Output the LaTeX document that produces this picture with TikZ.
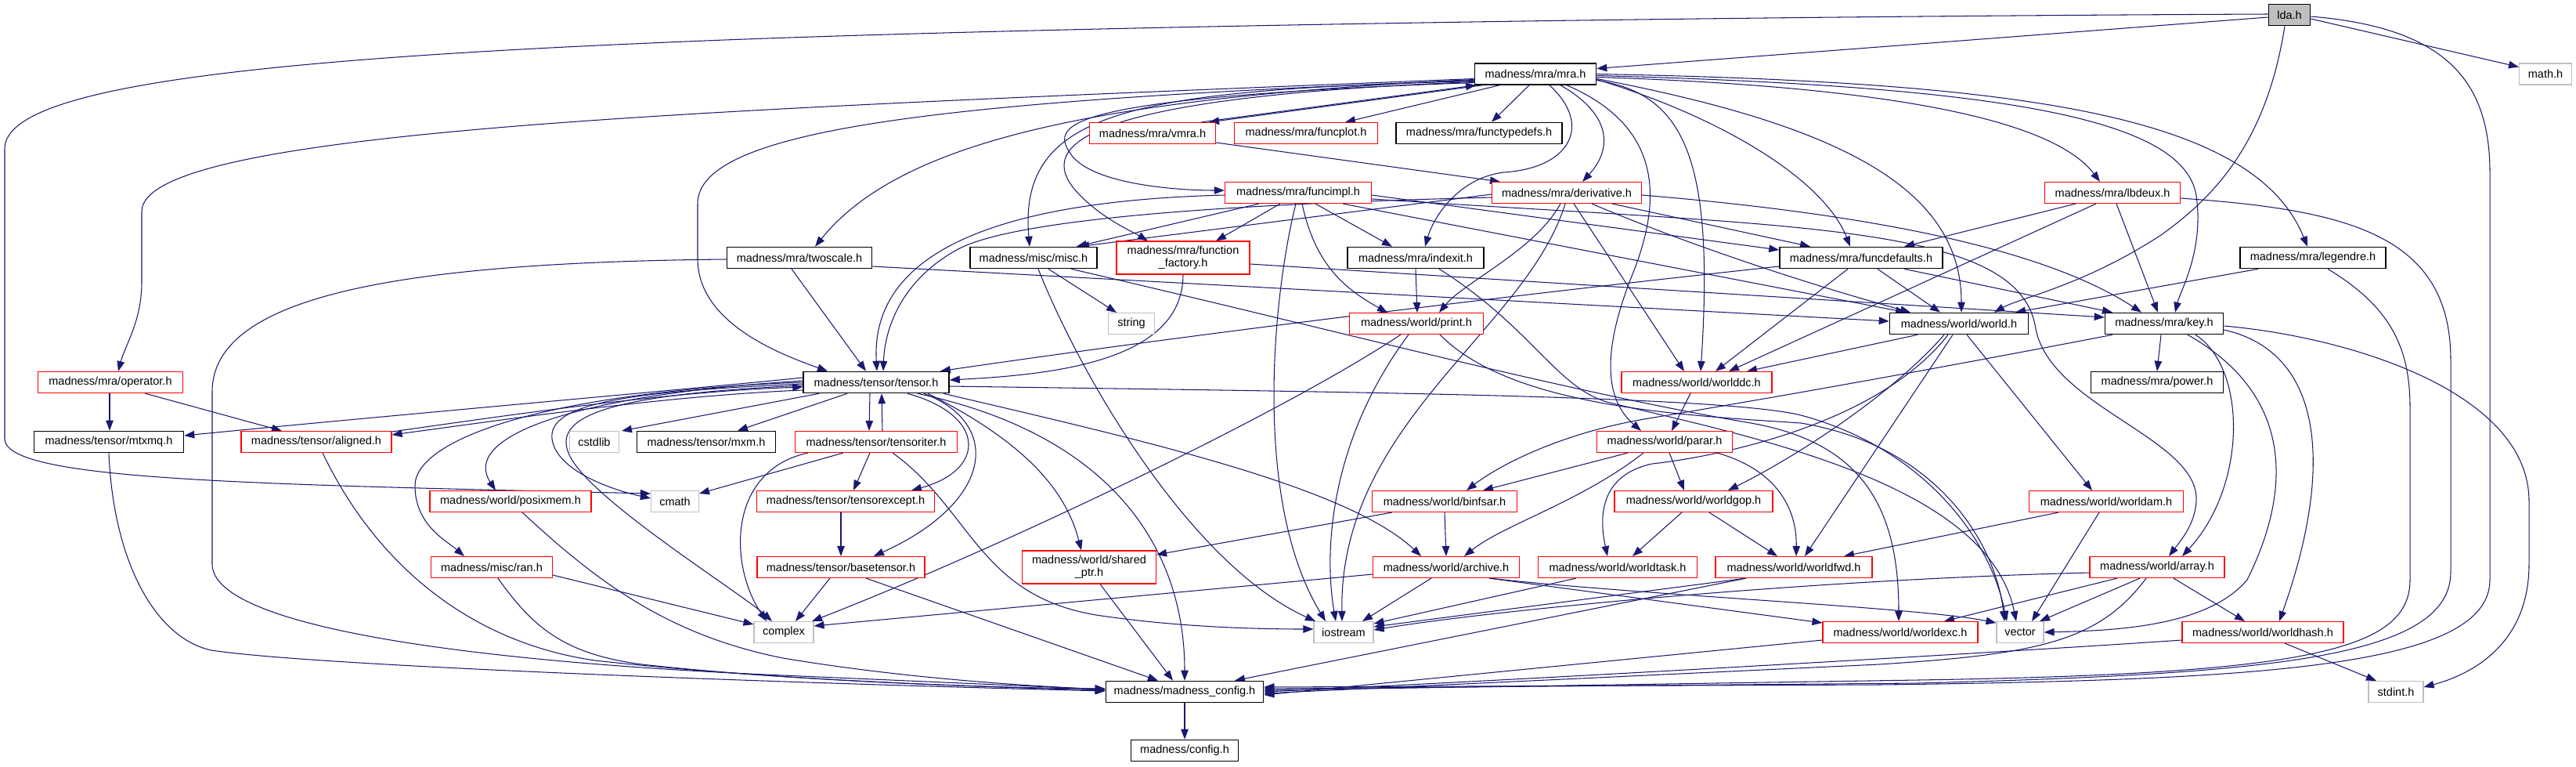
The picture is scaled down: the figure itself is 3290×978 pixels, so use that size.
\documentclass[tikz,border=0pt]{standalone}
\usepackage{fontspec}
\setmainfont{Liberation Sans}
\usetikzlibrary{arrows.meta}
\pgfdeclarelayer{bg}
\pgfsetlayers{bg,main}
\definecolor{edgec}{HTML}{191970}
\definecolor{rd}{HTML}{FF0000}
\definecolor{gb}{HTML}{BFBFBF}
\newcommand{\nfont}{\fontsize{14.5pt}{16pt}\selectfont}
\tikzset{
  box/.style={draw, line width=1.1pt, fill=white, minimum height=27pt, inner sep=0pt, font=\nfont, text=black},
  bn/.style={box, draw=black, line width=1.6pt},
  rn/.style={box, draw=rd},
  gn/.style={box, draw=gb},
  e/.style={draw=edgec, line width=1.05pt, -{Triangle[length=13pt,width=9.5pt]}}
}
\begin{document}
\begin{tikzpicture}[x=1pt,y=-1pt]
\useasboundingbox (0,0) rectangle (3290,978);
% nodes
\node[bn, fill=gb, minimum width=53pt] (lda) at (2924,19) {lda.h};
\node[bn, minimum width=155pt] (mra) at (1961,94.5) {madness/mra/mra.h};
\node[gn, minimum width=67pt] (math) at (3251,94.5) {math.h};
\node[rn, minimum width=161pt] (vmra) at (1472,170) {madness/mra/vmra.h};
\node[rn, minimum width=183pt] (funcplot) at (1668,170) {madness/mra/funcplot.h};
\node[bn, minimum width=212pt] (functypedefs) at (1889,170) {madness/mra/functypedefs.h};
\node[rn, minimum width=187pt] (funcimpl) at (1658,246) {madness/mra/funcimpl.h};
\node[rn, minimum width=191pt] (derivative) at (2001,246) {madness/mra/derivative.h};
\node[rn, minimum width=173pt] (lbdeux) at (2698,246) {madness/mra/lbdeux.h};
\node[bn, minimum width=185pt] (twoscale) at (1021,329) {madness/mra/twoscale.h};
\node[bn, minimum width=162pt] (misc) at (1320,329) {madness/misc/misc.h};
\node[rn, minimum width=170pt, minimum height=42pt, align=center] (funcfactory) at (1511,329) {madness/mra/function\\\_factory.h};
\node[bn, minimum width=174pt] (indexit) at (1808,329) {madness/mra/indexit.h};
\node[bn, minimum width=208pt] (funcdefaults) at (2377,329) {madness/mra/funcdefaults.h};
\node[bn, minimum width=186pt] (legendre) at (2954,329) {madness/mra/legendre.h};
\node[rn, minimum width=185pt] (operator) at (141,488) {madness/mra/operator.h};
\node[gn, minimum width=59pt] (string) at (1445,413) {string};
\node[rn, minimum width=171pt] (print) at (1809,413) {madness/world/print.h};
\node[bn, minimum width=177pt] (world) at (2502,413) {madness/world/world.h};
\node[bn, minimum width=151pt] (key) at (2764,413) {madness/mra/key.h};
\node[bn, minimum width=186pt] (tensor) at (1119,488) {madness/tensor/tensor.h};
\node[rn, minimum width=192pt] (worlddc) at (2167,488) {madness/world/worlddc.h};
\node[bn, minimum width=169pt] (power) at (2755,488) {madness/mra/power.h};
\node[bn, minimum width=191pt] (mtxmq) at (139,564) {madness/tensor/mtxmq.h};
\node[rn, minimum width=192pt] (aligned) at (404,564) {madness/tensor/aligned.h};
\node[gn, minimum width=63pt] (cstdlib) at (759,564) {cstdlib};
\node[bn, minimum width=177pt] (mxm) at (902,564) {madness/tensor/mxm.h};
\node[rn, minimum width=207pt] (tensoriter) at (1119,564) {madness/tensor/tensoriter.h};
\node[rn, minimum width=173pt] (parar) at (2126,564) {madness/world/parar.h};
\node[rn, minimum width=206pt] (posixmem) at (652,640) {madness/world/posixmem.h};
\node[gn, minimum width=61pt] (cmath) at (862,640) {cmath};
\node[rn, minimum width=227pt] (tensorexcept) at (1080,640) {madness/tensor/tensorexcept.h};
\node[rn, minimum width=185pt] (binfsar) at (1845,640) {madness/world/binfsar.h};
\node[rn, minimum width=202pt] (worldgop) at (2163,640) {madness/world/worldgop.h};
\node[rn, minimum width=197pt] (worldam) at (2690,640) {madness/world/worldam.h};
\node[rn, minimum width=155pt] (ran) at (628,724) {madness/misc/ran.h};
\node[rn, minimum width=214pt] (basetensor) at (1074,724) {madness/tensor/basetensor.h};
\node[rn, minimum width=171pt, minimum height=42pt, align=center] (sharedptr) at (1391,724) {madness/world/shared\\\_ptr.h};
\node[rn, minimum width=187pt] (archive) at (1847,724) {madness/world/archive.h};
\node[rn, minimum width=203pt] (worldtask) at (2066,724) {madness/world/worldtask.h};
\node[rn, minimum width=200pt] (worldfwd) at (2291,724) {madness/world/worldfwd.h};
\node[rn, minimum width=172pt] (array) at (2755,724) {madness/world/array.h};
\node[gn, minimum width=76pt] (complex) at (1001,807) {complex};
\node[gn, minimum width=76pt] (iostream) at (1716,807) {iostream};
\node[rn, minimum width=198pt] (worldexc) at (2427,807) {madness/world/worldexc.h};
\node[gn, minimum width=60pt] (vector) at (2580,807) {vector};
\node[rn, minimum width=206pt] (worldhash) at (2890,807) {madness/world/worldhash.h};
\node[bn, minimum width=201pt] (madconfig) at (1513,883) {madness/madness\_config.h};
\node[gn, minimum width=70pt] (stdint) at (3060,883) {stdint.h};
\node[bn, minimum width=137pt] (config) at (1513,958) {madness/config.h};

\begin{pgfonlayer}{bg}
\fill[white] (0,0) rectangle (3290,978);
% lda
\draw[e] ([yshift=-3pt]lda.west) -- ([yshift=7pt]mra.east);
\draw[e] ([yshift=1pt]lda.west) .. controls (2000,22) and (1200,38) .. (830,55) .. controls (250,80) and (6,120) .. (6,190) -- (6,560) .. controls (6,612) and (300,618) .. ([yshift=10pt]cmath.west);
\draw[e] ([yshift=-5pt]lda.east) -- ([yshift=9pt]math.west);
\draw[e] ([yshift=-2pt]lda.east) .. controls (3120,35) and (3180,100) .. (3180,220) -- (3180,740) .. controls (3180,850) and (2900,868) .. (2400,874) -- ([yshift=6pt]madconfig.east);
\draw[e] ([xshift=-6pt]lda.south) .. controls (2895,180) and (2830,250) .. (2760,300) .. controls (2660,365) and (2580,380) .. ([xshift=45pt]world.north);
% mra
\draw[e] ([xshift=-68pt]mra.south) -- ([xshift=72pt]vmra.north);
\draw[e] ([xshift=62pt]vmra.north) -- ([xshift=-76pt]mra.south);
\draw[e] ([xshift=-46pt]mra.south) -- ([xshift=50pt]funcplot.north);
\draw[e] ([xshift=-8pt]mra.south) -- ([xshift=16pt]functypedefs.north);
\draw[e] ([yshift=-6pt]mra.west) .. controls (900,140) and (181,165) .. (181,270) -- (181,360) .. controls (181,410) and (160,440) .. ([xshift=10pt]operator.north);
\draw[e] ([yshift=-7pt]mra.west) .. controls (1400,125) and (1150,180) .. ([xshift=20pt]twoscale.north);
\draw[e] ([yshift=-8pt]mra.west) .. controls (1200,128) and (891,165) .. (891,260) -- (891,330) .. controls (891,410) and (990,450) .. ([xshift=-62pt]tensor.north);
\draw[e] ([yshift=-9pt]mra.west) .. controls (1450,115) and (1300,140) .. ([xshift=-5pt]misc.north);
\draw[e] ([yshift=-10pt]mra.west) .. controls (1360,125) and (1320,190) .. (1380,250) .. controls (1410,280) and (1445,295) .. ([xshift=-45pt]funcfactory.north);
\draw[e] ([yshift=-11pt]mra.west) .. controls (1340,125) and (1340,160) .. (1370,200) .. controls (1400,235) and (1500,243) .. ([yshift=3pt]funcimpl.west);
\draw[e] ([xshift=18pt]mra.south) .. controls (2035,160) and (2005,215) .. (1920,220) .. controls (1860,228) and (1830,280) .. ([xshift=12pt]indexit.north);
\draw[e] ([xshift=32pt]mra.south) .. controls (2065,150) and (2055,195) .. ([xshift=20pt]derivative.north);
\draw[e] ([xshift=40pt]mra.south) .. controls (2120,160) and (2125,250) .. (2085,350) .. controls (2045,450) and (2050,510) .. ([xshift=-30pt]parar.north);
\draw[e] ([yshift=-8pt]mra.east) .. controls (2150,120) and (2190,200) .. ([xshift=5pt]worlddc.north);
\draw[e] ([yshift=-7pt]mra.east) .. controls (2200,150) and (2330,230) .. ([xshift=-14pt]funcdefaults.north);
\draw[e] ([yshift=-6pt]mra.east) .. controls (2350,160) and (2505,240) .. ([xshift=3pt]world.north);
\draw[e] ([yshift=-4pt]mra.east) .. controls (2400,110) and (2620,150) .. ([xshift=-16pt]lbdeux.north);
\draw[e] ([yshift=-2pt]mra.east) .. controls (2550,110) and (2790,150) .. (2805,250) .. controls (2815,320) and (2785,370) .. ([xshift=14pt]key.north);
\draw[e] (mra.east) .. controls (2600,105) and (2880,150) .. ([xshift=-7pt]legendre.north);
% vmra
\draw[e] ([yshift=-12pt]vmra.east) -- ([xshift=-85pt]derivative.north);
% funcimpl
\draw[e] ([yshift=-3pt]funcimpl.west) .. controls (1330,255) and (1110,300) .. ([xshift=1pt]tensor.north);
\draw[e] ([xshift=-50pt]funcimpl.south) -- ([xshift=55pt]misc.north);
\draw[e] ([xshift=-23pt]funcimpl.south) -- ([xshift=42pt]funcfactory.north);
\draw[e] ([xshift=22pt]funcimpl.south) -- ([xshift=-30pt]indexit.north);
\draw[e] ([xshift=5pt]funcimpl.south) .. controls (1680,340) and (1720,370) .. ([xshift=-37pt]print.north);
\draw[e] ([xshift=-3pt]funcimpl.south) .. controls (1625,380) and (1600,640) .. ([xshift=-23pt]iostream.north);
\draw[e] ([yshift=-3pt]funcimpl.east) -- ([yshift=10pt]funcdefaults.west);
\draw[e] ([xshift=57pt]funcimpl.south) -- ([xshift=-68pt]world.north);
\draw[e] ([yshift=-8pt]funcimpl.east) .. controls (2300,290) and (2580,285) .. (2600,420) .. controls (2620,520) and (2810,560) .. (2805,640) .. controls (2803,670) and (2785,690) .. ([xshift=15pt]array.north);
% derivative
\draw[e] ([yshift=-6pt]derivative.west) .. controls (1500,262) and (1280,285) .. (1220,320) .. controls (1150,360) and (1130,420) .. ([xshift=9pt]tensor.north);
\draw[e] ([yshift=-2pt]derivative.west) -- ([xshift=58pt]misc.north);
\draw[e] ([xshift=-8pt]derivative.south) .. controls (1960,320) and (1870,360) .. ([xshift=29pt]print.north);
\draw[e] ([xshift=-2pt]derivative.south) .. controls (1950,420) and (1710,540) .. ([xshift=-2pt]iostream.north);
\draw[e] ([xshift=9pt]derivative.south) -- ([xshift=-16pt]worlddc.north);
\draw[e] ([xshift=58pt]derivative.south) -- ([xshift=-65pt]funcdefaults.north);
\draw[e] ([xshift=32pt]derivative.south) .. controls (2150,310) and (2300,360) .. ([xshift=-62pt]world.north);
\draw[e] ([yshift=-3pt]derivative.east) .. controls (2350,270) and (2600,310) .. ([xshift=-29pt]key.north);
% lbdeux
\draw[e] ([xshift=-47pt]lbdeux.south) -- ([xshift=55pt]funcdefaults.north);
\draw[e] ([xshift=-21pt]lbdeux.south) -- ([xshift=41pt]worlddc.north);
\draw[e] ([xshift=5pt]lbdeux.south) -- ([xshift=-8pt]key.north);
\draw[e] ([yshift=-7pt]lbdeux.east) .. controls (3000,268) and (3130,300) .. (3130,460) -- (3130,730) .. controls (3130,840) and (2900,860) .. (2450,872) -- ([yshift=4pt]madconfig.east);
% legendre
\draw[e] ([xshift=-70pt]legendre.south) -- ([xshift=72pt]world.north);
\draw[e] ([xshift=19pt]legendre.south) .. controls (3050,390) and (3078,440) .. (3078,520) -- (3078,740) .. controls (3078,830) and (2950,860) .. (2450,868) -- ([yshift=2pt]madconfig.east);
% twoscale
\draw[e] ([xshift=-10pt]twoscale.south) -- ([xshift=-13pt]tensor.north);
\draw[e] ([yshift=-11pt]twoscale.east) -- ([yshift=3pt]world.west);
\draw[e] ([yshift=-2pt]twoscale.west) .. controls (500,335) and (271,380) .. (271,500) -- (271,720) .. controls (271,800) and (600,845) .. (1000,862) -- ([yshift=3pt]madconfig.west);
% misc
\draw[e] ([xshift=19pt]misc.south) -- ([xshift=-19pt]string.north);
\draw[e] ([xshift=6pt]misc.south) .. controls (1380,480) and (1520,720) .. ([xshift=-36pt]iostream.north);
\draw[e] ([xshift=48pt]misc.south) .. controls (1700,420) and (2000,500) .. (2236,540) .. controls (2380,565) and (2425,650) .. ([xshift=-2pt]worldexc.north);
% function factory
\draw[e] (funcfactory.south) .. controls (1511,460) and (1350,478) .. ([yshift=3pt]tensor.east);
\draw[e] ([yshift=-8pt]funcfactory.east) -- ([yshift=8pt]key.west);
% funcdefaults
\draw[e] ([yshift=-11pt]funcdefaults.west) .. controls (1900,380) and (1500,430) .. ([xshift=-12pt]tensor.north east);
\draw[e] ([xshift=-17pt]funcdefaults.south) -- ([xshift=24pt]worlddc.north);
\draw[e] ([xshift=21pt]funcdefaults.south) -- ([xshift=-24pt]world.north);
\draw[e] ([xshift=55pt]funcdefaults.south) -- ([xshift=-66pt]key.north);
% indexit
\draw[e] (indexit.south) -- ([xshift=1pt]print.north);
\draw[e] ([xshift=30pt]indexit.south) .. controls (1960,420) and (1990,500) .. (2060,515) .. controls (2250,560) and (2540,620) .. ([xshift=-5pt]vector.north);
% print
\draw[e] ([xshift=-20pt]print.south) .. controls (1650,520) and (1300,690) .. ([xshift=36pt]complex.north);
\draw[e] ([xshift=-10pt]print.south) .. controls (1700,560) and (1690,700) .. ([xshift=-10pt]iostream.north);
\draw[e] ([xshift=30pt]print.south) .. controls (1930,520) and (2150,530) .. (2300,540) .. controls (2480,570) and (2550,700) .. ([xshift=-20pt]vector.north);
% tensor
\draw[e] ([yshift=6pt]tensor.west) .. controls (900,495) and (500,530) .. ([yshift=8pt]mtxmq.east);
\draw[e] ([yshift=-10pt]tensor.west) .. controls (850,505) and (650,535) .. ([yshift=9pt]aligned.east);
\draw[e] ([yshift=13pt]aligned.east) .. controls (650,530) and (850,500) .. ([yshift=-6pt]tensor.west);
\draw[e] ([yshift=2pt]tensor.west) .. controls (720,505) and (590,560) .. ([xshift=-19pt]posixmem.north);
\draw[e] (tensor.west) .. controls (700,500) and (530,560) .. (530,620) .. controls (530,670) and (570,690) .. ([xshift=-35pt]ran.north);
\draw[e] ([yshift=-2pt]tensor.west) .. controls (800,500) and (700,515) .. (705,560) .. controls (710,600) and (780,625) .. ([yshift=4pt]cmath.west);
\draw[e] ([yshift=-4pt]tensor.west) .. controls (740,505) and (690,540) .. (740,600) .. controls (790,660) and (950,760) .. ([xshift=-15pt]complex.north);
\draw[e] ([xshift=-73pt]tensor.south) -- ([xshift=35pt]cstdlib.north);
\draw[e] ([xshift=-37pt]tensor.south) -- ([xshift=40pt]mxm.north);
\draw[e] ([xshift=-8pt]tensor.south) -- ([xshift=-9pt]tensoriter.north);
\draw[e] ([xshift=8pt]tensoriter.north) -- ([xshift=7pt]tensor.south);
\draw[e] ([xshift=40pt]tensor.south) .. controls (1260,530) and (1260,600) .. ([xshift=84pt]tensorexcept.north);
\draw[e] ([xshift=61pt]tensor.south) .. controls (1280,540) and (1270,640) .. ([xshift=42pt]basetensor.north);
\draw[e] ([xshift=66pt]tensor.south) .. controls (1300,560) and (1360,620) .. ([xshift=-10pt]sharedptr.north);
\draw[e] ([xshift=53pt]tensor.south) .. controls (1420,555) and (1513,700) .. (madconfig.north);
\draw[e] ([xshift=86pt]tensor.south) .. controls (1450,560) and (1720,620) .. ([xshift=-32pt]archive.north);
\draw[e] ([yshift=-5pt]tensor.east) .. controls (1700,500) and (2200,505) .. (2300,530) .. controls (2450,570) and (2540,680) .. ([xshift=-17pt]vector.north);
% worlddc
\draw[e] ([xshift=-8pt]worlddc.south) -- ([xshift=9pt]parar.north);
% world
\draw[e] ([xshift=-53pt]world.south) -- ([xshift=64pt]worlddc.north);
\draw[e] ([xshift=-19pt]world.south) .. controls (2420,500) and (2300,580) .. ([xshift=44pt]worldgop.north);
\draw[e] ([xshift=-14pt]world.south) .. controls (2400,540) and (2200,582) .. (2110,592) .. controls (2050,605) and (2040,650) .. ([xshift=-13pt]worldtask.north);
\draw[e] ([xshift=-8pt]world.south) -- ([xshift=14pt]worldfwd.north);
\draw[e] ([xshift=10pt]world.south) -- ([xshift=-18pt]worldam.north);
% key
\draw[e] ([xshift=-4pt]key.south) -- (power.north);
\draw[e] ([xshift=-66pt]key.south) .. controls (2450,475) and (2250,510) .. (2100,535) .. controls (2000,552) and (1920,590) .. ([xshift=28pt]binfsar.north);
\draw[e] ([xshift=40pt]key.south) .. controls (2870,470) and (2870,620) .. ([xshift=32pt]array.north);
\draw[e] ([xshift=30pt]key.south) .. controls (2940,510) and (2920,640) .. (2870,740) .. controls (2820,800) and (2700,805) .. (vector.east);
\draw[e] ([yshift=-8pt]key.east) .. controls (2970,450) and (2980,600) .. ([xshift=21pt]worldhash.north);
\draw[e] ([yshift=-3pt]key.east) .. controls (3000,430) and (3230,500) .. (3230,640) -- (3230,720) .. controls (3230,820) and (3160,860) .. ([yshift=6pt]stdint.east);
% parar
\draw[e] ([xshift=-47pt]parar.south) -- ([xshift=49pt]binfsar.north);
\draw[e] ([xshift=-27pt]parar.south) .. controls (2020,640) and (1920,670) .. ([xshift=23pt]archive.north);
\draw[e] ([xshift=6pt]parar.south) -- ([xshift=-12pt]worldgop.north);
\draw[e] ([xshift=67pt]parar.south) .. controls (2270,600) and (2295,650) .. ([xshift=3pt]worldfwd.north);
% binfsar
\draw[e] (binfsar.south) -- (archive.north);
\draw[e] ([xshift=-67pt]binfsar.south) -- ([yshift=16pt]sharedptr.east);
% archive
\draw[e] ([yshift=-9pt]archive.west) -- ([yshift=8pt]complex.east);
\draw[e] ([xshift=-19pt]archive.south) -- ([xshift=24pt]iostream.north);
\draw[e] ([xshift=55pt]archive.south) -- ([yshift=12pt]worldexc.west);
\draw[e] ([xshift=55pt]archive.south) .. controls (2100,760) and (2450,775) .. ([yshift=12pt]vector.west);
% worldgop
\draw[e] ([xshift=-15pt]worldgop.south) -- ([xshift=19pt]worldtask.north);
\draw[e] ([xshift=20pt]worldgop.south) -- ([xshift=-21pt]worldfwd.north);
% worldam
\draw[e] ([xshift=-61pt]worldam.south) -- ([xshift=64pt]worldfwd.north);
\draw[e] ([xshift=-9pt]worldam.south) -- ([xshift=15pt]vector.north);
% worldtask, worldfwd
\draw[e] ([xshift=-53pt]worldtask.south) -- ([yshift=11pt]iostream.east);
\draw[e] ([xshift=-61pt]worldfwd.south) -- ([yshift=7pt]iostream.east);
\draw[e] ([xshift=-61pt]worldfwd.south) -- ([xshift=64pt]madconfig.north);
% array
\draw[e] ([yshift=-7pt]array.west) .. controls (2300,740) and (1900,780) .. ([yshift=3pt]iostream.east);
\draw[e] ([xshift=-51pt]array.south) -- ([xshift=56pt]worldexc.north);
\draw[e] ([xshift=-22pt]array.south) -- ([xshift=25pt]vector.north);
\draw[e] ([xshift=-14pt]array.south) .. controls (2680,820) and (2600,835) .. (2400,848) -- ([yshift=-2pt]madconfig.east);
\draw[e] ([xshift=21pt]array.south) -- ([xshift=-23pt]worldhash.north);
% worldexc, worldhash
\draw[e] ([yshift=-10pt]worldexc.west) -- ([yshift=-4pt]madconfig.east);
\draw[e] ([xshift=28pt]worldhash.south) -- ([xshift=-25pt]stdint.north);
\draw[e] ([yshift=-10pt]worldhash.west) .. controls (2600,830) and (2000,865) .. (madconfig.east);
% tensor family
\draw[e] ([xshift=-6pt]tensorexcept.south) -- (basetensor.north);
\draw[e] ([xshift=-14pt]basetensor.south) -- ([xshift=15pt]complex.north);
\draw[e] ([xshift=32pt]basetensor.south) -- ([xshift=-34pt]madconfig.north);
\draw[e] ([xshift=14pt]sharedptr.south) -- ([xshift=-15pt]madconfig.north);
\draw[e] (madconfig.south) -- (config.north);
\draw[e] ([xshift=-42pt]tensoriter.south) -- ([yshift=10pt]cmath.east);
\draw[e] ([xshift=-87pt]tensoriter.south) .. controls (930,600) and (930,720) .. ([xshift=-22pt]complex.north);
\draw[e] ([xshift=-8pt]tensoriter.south) -- ([xshift=10pt]tensorexcept.north);
\draw[e] ([xshift=21pt]tensoriter.south) .. controls (1240,650) and (1250,760) .. (1400,785) .. controls (1500,800) and (1600,803) .. ([yshift=4pt]iostream.west);
% operator
\draw[e] ([xshift=-1pt]operator.south) -- ([xshift=1pt]mtxmq.north);
\draw[e] ([xshift=44pt]operator.south) -- ([xshift=-44pt]aligned.north);
% into madness_config from left
\draw[e] (mtxmq.south) .. controls (145,720) and (200,815) .. (270,830) .. controls (400,850) and (1000,872) .. ([yshift=1pt]madconfig.west);
\draw[e] ([xshift=8pt]aligned.south) .. controls (480,720) and (600,820) .. (760,843) .. controls (1000,870) and (1300,878) .. ([yshift=2pt]madconfig.west);
\draw[e] ([xshift=15pt]posixmem.south) .. controls (760,740) and (850,810) .. (1000,840) .. controls (1150,865) and (1300,875) .. ([yshift=3pt]madconfig.west);
\draw[e] ([xshift=8pt]ran.south) .. controls (680,800) and (720,835) .. (820,848) .. controls (1000,868) and (1250,878) .. ([yshift=4pt]madconfig.west);
\draw[e] ([yshift=-10pt]ran.east) -- ([yshift=10pt]complex.west);
\end{pgfonlayer}
\end{tikzpicture}
\end{document}
